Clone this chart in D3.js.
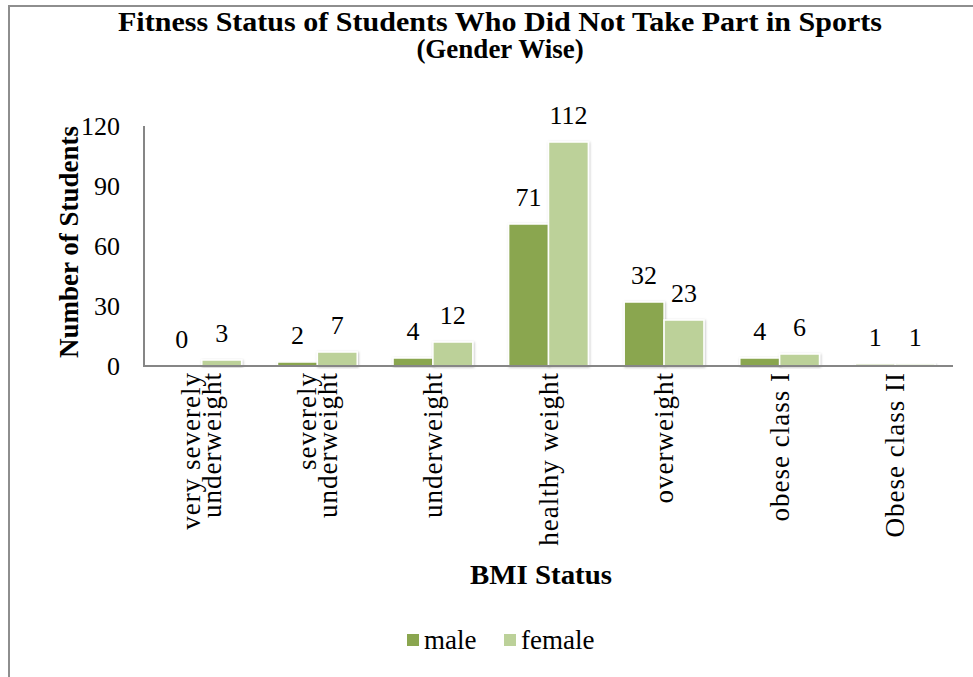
<!DOCTYPE html>
<html>
<head>
<meta charset="utf-8">
<script src="https://cdn.jsdelivr.net/npm/d3@7"></script>
<style>
  html, body { margin: 0; padding: 0; background: #ffffff; }
  svg { display: block; }
  text { font-family: "Liberation Serif", "Times New Roman", serif; fill: #000; }
</style>
</head>
<body>
<svg id="chart" width="973" height="677"></svg>
<script>
const categories = [
  ["very severely", "underweight"],
  ["severely", "underweight"],
  ["underweight"],
  ["healthy weight"],
  ["overweight"],
  ["obese class I"],
  ["Obese class II"]
];
const seriesNames = ["male", "female"];
const maleValues = [0, 2, 4, 71, 32, 4, 1];
const femaleValues = [3, 7, 12, 112, 23, 6, 1];
const yTicks = [0, 30, 60, 90, 120];
const colors = ["#8aa64f", "#bcd199"];
const titleLines = ["Fitness Status of Students Who Did Not Take Part in Sports", "(Gender Wise)"];
const yTitle = "Number of Students";
const xTitle = "BMI Status";

const svg = d3.select("#chart");
const W = 973, H = 677;
const plot = { left: 144, right: 953, top: 126, bottom: 366 };

// chart frame (left and top edges visible)
svg.append("path")
  .attr("d", `M9,${H} L9,6 L${W},6`)
  .attr("fill", "none").attr("stroke", "#8e8e8e").attr("stroke-width", 2);

const defs = svg.append("defs");
const f = defs.append("filter").attr("id", "shadow").attr("x", "-20%").attr("y", "-20%").attr("width", "140%").attr("height", "140%");
f.append("feDropShadow").attr("dx", 0.8).attr("dy", 0.8).attr("stdDeviation", 1.2).attr("flood-color", "#000").attr("flood-opacity", 0.25);

const catIdx = categories.map((d, i) => i);
const x0 = d3.scaleBand().domain(catIdx).range([plot.left, plot.right]).paddingInner(0.31).paddingOuter(0.155);
const x1 = d3.scaleBand().domain(seriesNames).range([0, x0.bandwidth()]);
const y = d3.scaleLinear().domain([0, 120]).range([plot.bottom, plot.top]);

// title
svg.append("g").selectAll("text").data(titleLines).join("text")
  .attr("x", 500).attr("y", (d, i) => 31 + i * 27)
  .attr("text-anchor", "middle")
  .attr("textLength", (d, i) => i === 0 ? 764 : null)
  .attr("lengthAdjust", "spacingAndGlyphs")
  .style("font-size", "27px").style("font-weight", "bold")
  .text(d => d);

// y axis (labels only + line)
const yAxis = d3.axisLeft(y).tickValues(yTicks).tickSize(0).tickPadding(24);
const gy = svg.append("g").attr("transform", `translate(${plot.left},0)`).call(yAxis);
gy.select(".domain").remove();
gy.selectAll("text").style("font-size", "26px").style("font-family", "'Liberation Serif', serif").attr("fill", "#000");

// series data
const data = catIdx.map(i => ({ i, values: [maleValues[i], femaleValues[i]] }));

// bars
const groups = svg.append("g").selectAll("g").data(data).join("g")
  .attr("transform", d => `translate(${x0(d.i)},0)`);
groups.selectAll("rect").data(d => d.values.map((v, k) => ({ v, k }))).join("rect")
  .attr("x", d => x1(seriesNames[d.k]))
  .attr("y", d => y(d.v))
  .attr("width", x1.bandwidth())
  .attr("height", d => y(0) - y(d.v))
  .attr("fill", d => colors[d.k])
  .attr("stroke", "#ffffff").attr("stroke-width", 1.5)
  .attr("filter", "url(#shadow)");

// data labels
groups.selectAll("text.lbl").data(d => d.values.map((v, k) => ({ v, k }))).join("text")
  .attr("class", "lbl")
  .attr("x", d => x1(seriesNames[d.k]) + x1.bandwidth() / 2)
  .attr("y", d => y(d.v) - 18)
  .attr("text-anchor", "middle")
  .style("font-size", "26px")
  .text(d => d.v);

// axes lines
svg.append("line").attr("x1", plot.left).attr("x2", plot.left).attr("y1", plot.top).attr("y2", plot.bottom)
  .attr("stroke", "#868686").attr("stroke-width", 2);
svg.append("line").attr("x1", plot.left - 1).attr("x2", plot.right).attr("y1", plot.bottom).attr("y2", plot.bottom)
  .attr("stroke", "#868686").attr("stroke-width", 2);

// category labels (rotated)
const xl = svg.append("g");
data.forEach(d => {
  const lines = categories[d.i];
  const cx = x0(d.i) + x0.bandwidth() / 2;
  const lh = 21;
  lines.forEach((ln, j) => {
    const off = (j - (lines.length - 1) / 2) * lh;
    xl.append("text")
      .attr("transform", `translate(${cx + off + 9},${plot.bottom + 6}) rotate(-90)`)
      .attr("text-anchor", "end")
      .style("font-size", "27px")
      .style("letter-spacing", "1px")
      .text(ln);
  });
});

// axis titles
svg.append("text")
  .attr("transform", `translate(78,${(plot.top + plot.bottom) / 2 - 4}) rotate(-90)`)
  .attr("text-anchor", "middle")
  .style("font-size", "27px").style("font-weight", "bold")
  .text(yTitle);
svg.append("text")
  .attr("x", 541).attr("y", 584)
  .attr("text-anchor", "middle")
  .attr("textLength", 142).attr("lengthAdjust", "spacingAndGlyphs")
  .style("font-size", "28px").style("font-weight", "bold")
  .text(xTitle);

// legend
const lg = svg.append("g").attr("transform", "translate(407,640)");
const items = [{ n: "male", x: 0 }, { n: "female", x: 97 }];
items.forEach((it, k) => {
  lg.append("rect").attr("x", it.x).attr("y", -6).attr("width", 12).attr("height", 12).attr("fill", colors[k]);
  lg.append("text").attr("x", it.x + 17).attr("y", 9).style("font-size", "27px").text(it.n);
});
</script>
</body>
</html>
